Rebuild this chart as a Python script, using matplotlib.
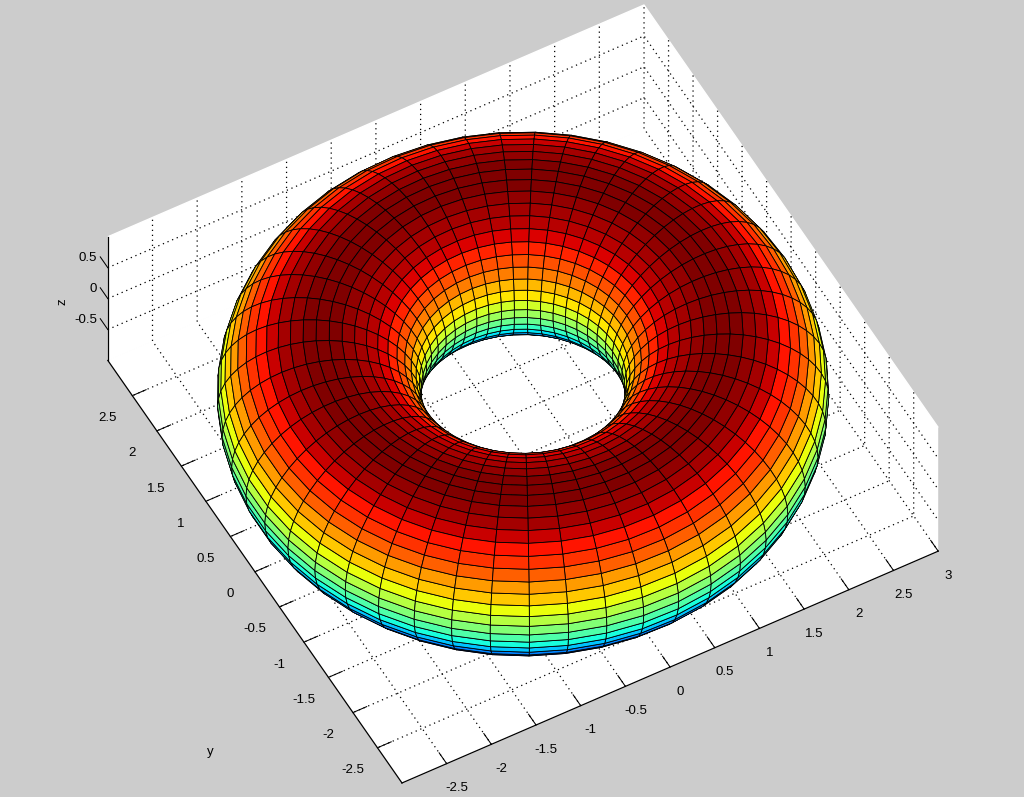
# Toro con malla de colores, vista desde arriba
import numpy as np
import matplotlib
matplotlib.use("Agg")
import matplotlib.pyplot as plt
from mpl_toolkits.mplot3d import proj3d

# medidas del toro y malla
R_mayor = 2
r_menor = 1
n_mayor = 49
n_menor = 49

x_ticks = [-2.5, -2, -1.5, -1, -0.5, 0, 0.5, 1, 1.5, 2, 2.5, 3]
y_ticks = [-2.5, -2, -1.5, -1, -0.5, 0, 0.5, 1, 1.5, 2, 2.5]
z_ticks = [-0.5, 0, 0.5]
x_lim = [-3, 3]
y_lim = [-3, 3]
z_lim = [-1, 1]
color_lim = [-1.03, 1.01]

plt.rcParams['font.family'] = ['Liberation Sans', 'DejaVu Sans']
plt.rcParams['font.size'] = 9.5

W, H = 1024, 797
lado = 862  # lado del axes en pixeles

fig = plt.figure(figsize=(W / 100, H / 100), dpi=100, facecolor='#cccccc')
ax = fig.add_axes([(523 - 0.5135 * lado) / W, (403 - 0.5135 * lado) / H, lado / W, lado / H],
                  projection='3d', proj_type='ortho')
ax.patch.set_visible(False)
ax.view_init(elev=52, azim=-118.75)
ax.set_box_aspect((6, 6, 1.97), zoom=1)

tita = np.linspace(0, 2 * np.pi, n_mayor + 1)
fi = np.linspace(0, 2 * np.pi, n_menor + 1)
T, F = np.meshgrid(tita, fi)
X = (R_mayor + r_menor * np.cos(F)) * np.cos(T)
Y = (R_mayor + r_menor * np.cos(F)) * np.sin(T)
Z = r_menor * np.sin(F)

jet = plt.get_cmap('jet', 64)
colores = jet((Z - color_lim[0]) / (color_lim[1] - color_lim[0]))
ax.plot_surface(X, Y, Z, facecolors=colores, rstride=1, cstride=1, shade=False,
                edgecolor='black', linewidth=0.6, antialiased=True)

ax.set_xlim(x_lim, view_margin=0)
ax.set_ylim(y_lim, view_margin=0)
ax.set_zlim(z_lim, view_margin=0)
ax.set_xticks(x_ticks)
ax.set_yticks(y_ticks)
ax.set_zticks(z_ticks)
ax.set_xticklabels([f'{v:g}' for v in x_ticks])
ax.set_yticklabels([f'{v:g}' for v in y_ticks])
ax.set_zticklabels([])

for eje in (ax.xaxis, ax.yaxis, ax.zaxis):
    eje.set_pane_color('white')
    eje.pane.set_edgecolor('white')
    eje.line.set_color('black')
    eje.line.set_linewidth(0.9)
    eje._axinfo['grid'].update(color='black', linewidth=0.9, linestyle=(0, (1, 3)))
    eje._axinfo['tick'].update(inward_factor=0, outward_factor=0.32)
    eje._axinfo['tick']['linewidth'] = {True: 0.75, False: 0.75}
    eje.set_tick_params(colors='black', pad=3)
ax.yaxis.set_tick_params(pad=7)

# en z las marcas salen hacia +y
ax.zaxis._get_tickdir = lambda pos: 1

# etiquetas de z alineadas a la derecha, como en el original
M = ax.get_proj()
for v in z_ticks:
    xp, yp, _ = proj3d.proj_transform(x_lim[0], y_lim[1], v, M)
    ax.annotate(f'{v:g}', (xp, yp), xytext=(-11, 10), textcoords='offset pixels',
                ha='right', va='center')

fig.text(210 / W, 1 - 752 / H, 'y', ha='center', va='center')
fig.text(62 / W, 1 - 302 / H, 'z', ha='center', va='center', rotation=90)
fig.text(650 / W, 1 - 801 / H, 'x', ha='center', va='center')

fig.savefig('out.png', dpi=100, facecolor=fig.get_facecolor())
